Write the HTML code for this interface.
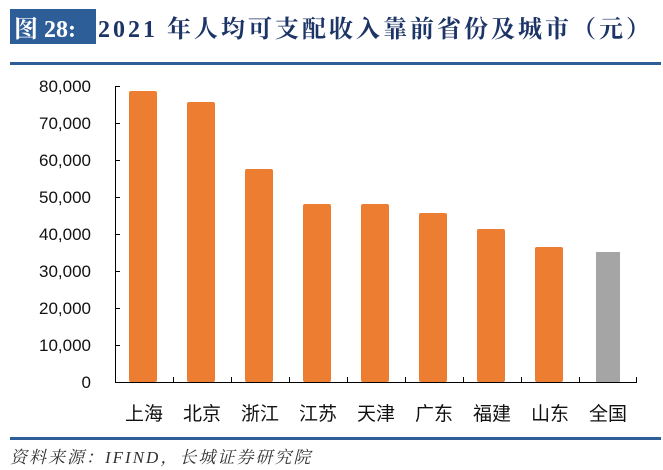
<!DOCTYPE html>
<html><head><meta charset="utf-8"><style>
body{margin:0;width:663px;height:470px;background:#fff;overflow:hidden;position:relative;font-family:"Liberation Sans","Noto Sans CJK SC",sans-serif}
.abs{position:absolute}
</style></head><body>
<div class="abs" style="left:10px;top:9px;width:86px;height:35px;background:#2e5e98"></div>
<div class="abs" style="left:14px;top:9px;line-height:35px;font:bold 24px 'Liberation Serif','Noto Serif CJK SC',serif;color:#fff;white-space:nowrap">图 28:</div>
<div class="abs" style="left:98px;top:9px;line-height:35px;font:bold 24px 'Liberation Serif','Noto Serif CJK SC',serif;color:#1c3466;white-space:nowrap;letter-spacing:3px">2021 年人均可支配收入靠前省份及城市（元）</div>
<div class="abs" style="left:10px;top:62px;width:651px;height:3px;background:#2e5e98"></div>
<div class="abs" style="left:10px;top:437px;width:651px;height:3px;background:#2e5e98"></div>
<div class="abs" style="left:10px;top:443px;font:italic 17px 'Liberation Serif','Noto Serif CJK SC',serif;color:#333;white-space:nowrap;letter-spacing:2px">资料来源：IFIND，长城证券研究院</div>
<svg class="abs" style="left:0;top:0" width="663" height="470">
<g font-family="Liberation Sans, sans-serif" font-size="17" fill="#111" text-anchor="end">
<text x="91" y="92">80,000</text><text x="91" y="129">70,000</text><text x="91" y="166">60,000</text><text x="91" y="203">50,000</text><text x="91" y="240">40,000</text><text x="91" y="277">30,000</text><text x="91" y="314">20,000</text><text x="91" y="351">10,000</text><text x="91" y="388">0</text>
</g>
<g fill="#ed7d31">
<rect x="129" y="91" width="28" height="291" rx="2"/>
<rect x="187" y="102" width="28" height="280" rx="2"/>
<rect x="245" y="169" width="28" height="213" rx="2"/>
<rect x="303" y="204" width="28" height="178" rx="2"/>
<rect x="361" y="204" width="28" height="178" rx="2"/>
<rect x="419" y="213" width="28" height="169" rx="2"/>
<rect x="477" y="229" width="28" height="153" rx="2"/>
<rect x="535" y="247" width="28" height="135" rx="2"/>
</g>
<rect x="596" y="252" width="24" height="130" fill="#a5a5a5"/>
<g stroke="#000" stroke-width="1" fill="none">
<path d="M115.5 86V382.5H637"/>
<path d="M115 86.5h5M115 123.5h5M115 160.5h5M115 197.5h5M115 234.5h5M115 271.5h5M115 308.5h5M115 345.5h5"/>
<path d="M173.5 382v-5M231.5 382v-5M289.5 382v-5M347.5 382v-5M405.5 382v-5M463.5 382v-5M521.5 382v-5M579.5 382v-5M636.5 382v-5"/>
</g>
<g font-family="Liberation Sans, Noto Sans CJK SC, sans-serif" font-size="19" fill="#111" text-anchor="middle">
<text x="144" y="420">上海</text><text x="202" y="420">北京</text><text x="260" y="420">浙江</text><text x="318" y="420">江苏</text><text x="376" y="420">天津</text><text x="434" y="420">广东</text><text x="492" y="420">福建</text><text x="550" y="420">山东</text><text x="608" y="420">全国</text>
</g>
</svg>
</body></html>
